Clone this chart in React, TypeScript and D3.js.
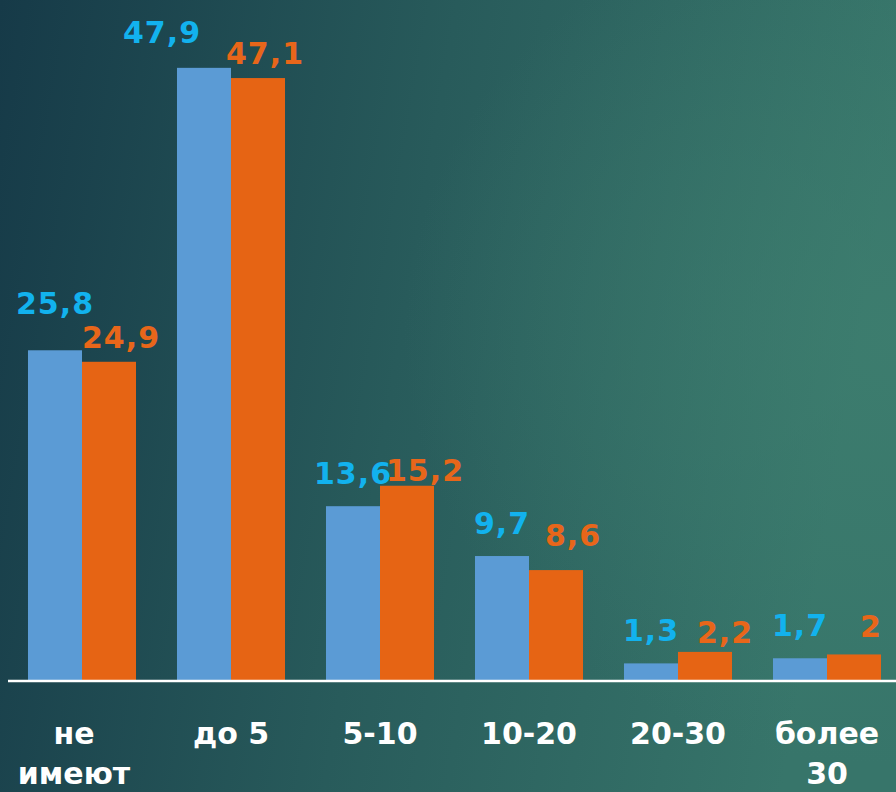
import React from "react";
import * as d3 from "d3";

const categories = ["не имеют", "до 5", "5-10", "10-20", "20-30", "более 30"];
const categoryLines = [["не", "имеют"], ["до 5"], ["5-10"], ["10-20"], ["20-30"], ["более", "30"]];
const series = ["Ряд 1", "Ряд 2"];
const seriesA = [25.8, 47.9, 13.6, 9.7, 1.3, 1.7];
const seriesB = [24.9, 47.1, 15.2, 8.6, 2.2, 2];
const labelsA = ["25,8", "47,9", "13,6", "9,7", "1,3", "1,7"];
const labelsB = ["24,9", "47,1", "15,2", "8,6", "2,2", "2"];

const W = 896;
const H = 792;
const BLUE = "#5b9bd5";
const ORANGE = "#e66414";
const BLUE_TXT = "#12b2ee";
const ORANGE_TXT = "#e8661a";
const FONT = "'DejaVu Sans', sans-serif";

// label nudges (styling offsets around the default label anchor)
const nudgeA = [[0, -14], [-42, -3], [0, 0], [0, 0], [0, 0], [0, 0]];
const nudgeB = [[12, 0], [7, 0], [18, 9], [17, -10], [20, 5], [17, -3]];

export default function App() {
  const x0 = d3
    .scaleBand<string>()
    .domain(categories)
    .range([7.5, 901.5])
    .paddingInner(0.275)
    .paddingOuter(0.1375);
  const x1 = d3.scaleBand<string>().domain(series).range([0, x0.bandwidth()]);
  const y = d3.scaleLinear().domain([0, 50]).range([680, 41]);
  const vals = [seriesA, seriesB];
  const labs = [labelsA, labelsB];
  const nudges = [nudgeA, nudgeB];
  const baseGap = [22, 14];

  return (
    <svg
      width={W}
      height={H}
      style={{ position: "absolute", left: 0, top: 0, display: "block" }}
    >
      <defs>
        <linearGradient id="bg" x1="0" y1="0" x2="1" y2="0.15">
          <stop offset="0" stopColor="#163a48" />
          <stop offset="0.5" stopColor="#285b5b" />
          <stop offset="1" stopColor="#37756a" />
        </linearGradient>
        <radialGradient id="hl" cx="1" cy="0.42" r="0.55">
          <stop offset="0" stopColor="#3f8070" stopOpacity="0.7" />
          <stop offset="1" stopColor="#3f8070" stopOpacity="0" />
        </radialGradient>
      </defs>
      <rect x={0} y={0} width={W} height={H} fill="url(#bg)" />
      <rect x={0} y={0} width={W} height={H} fill="url(#hl)" />

      {categories.map((c, i) => (
        <g key={c} transform={`translate(${x0(c)},0)`}>
          {series.map((s, k) => {
            const v = vals[k][i];
            const bx = x1(s)!;
            const bw = x1.bandwidth();
            const top = y(v);
            const cx = bx + bw / 2 + nudges[k][i][0];
            const ty = top - baseGap[k] + nudges[k][i][1];
            return (
              <g key={s}>
                <rect
                  x={bx}
                  y={top}
                  width={bw}
                  height={y(0) - top}
                  fill={k === 0 ? BLUE : ORANGE}
                />
                <text
                  x={cx}
                  y={ty}
                  textAnchor="middle"
                  fontFamily={FONT}
                  fontWeight="bold"
                  fontSize={30}
                  letterSpacing={1}
                  fill={k === 0 ? BLUE_TXT : ORANGE_TXT}
                >
                  {labs[k][i]}
                </text>
              </g>
            );
          })}
        </g>
      ))}

      <line x1={8} x2={W} y1={y(0) + 1} y2={y(0) + 1} stroke="#ffffff" strokeWidth={2.5} />

      {categories.map((c, i) => (
        <text
          key={c}
          x={x0(c)! + x0.bandwidth() / 2 - (i === 0 ? 8 : 0)}
          y={744}
          textAnchor="middle"
          fontFamily={FONT}
          fontWeight="bold"
          fontSize={30}
          fill="#ffffff"
        >
          {categoryLines[i].map((l, j) => (
            <tspan key={j} x={x0(c)! + x0.bandwidth() / 2 - (i === 0 ? 8 : 0)} dy={j === 0 ? 0 : 40}>
              {l}
            </tspan>
          ))}
        </text>
      ))}
    </svg>
  );
}
